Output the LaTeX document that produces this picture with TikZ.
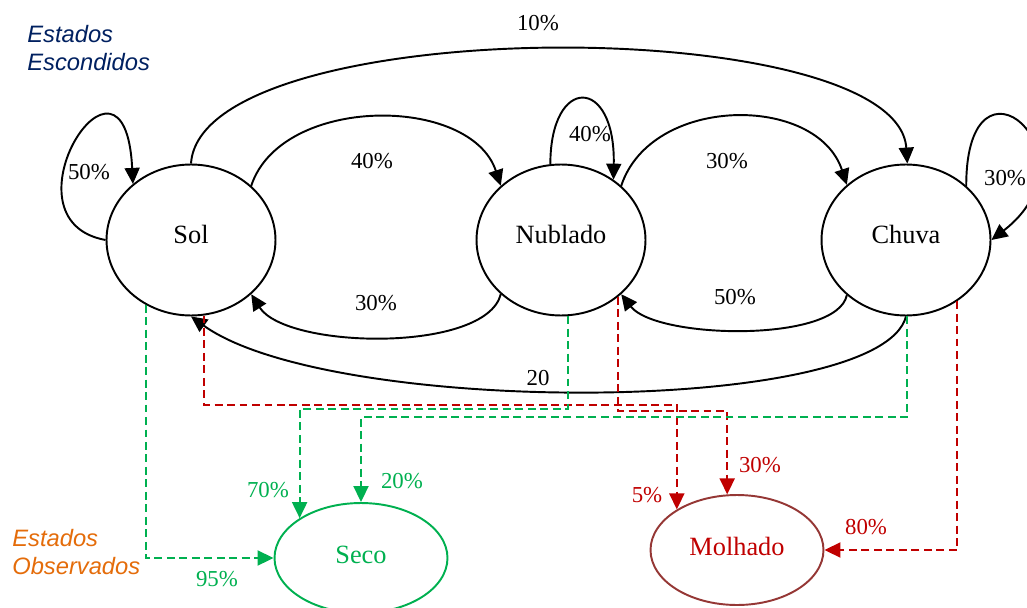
\documentclass[tikz,border=0pt]{standalone}
\usepackage{fontspec}
\setmainfont{Liberation Serif}
\setsansfont{Liberation Sans}
\usepackage{tikz}
\usetikzlibrary{arrows.meta}
\usetikzlibrary{shapes,positioning}
\definecolor{azul}{RGB}{0,32,96}
\definecolor{laranja}{RGB}{228,108,10}
\definecolor{verde}{RGB}{0,176,80}
\definecolor{vermelho}{RGB}{192,0,0}
\definecolor{marrom}{RGB}{149,55,53}
\tikzset{>={Triangle[length=0.32cm,width=0.3cm]},
  estado/.style={ellipse,draw,line width=1.1pt,inner sep=0pt,
    minimum width=3.38cm,minimum height=3.02cm,text depth=0.24cm,
    font=\fontsize{15}{18}\selectfont},
  observado/.style={ellipse,draw,line width=1.1pt,inner sep=0pt,
    minimum width=3.46cm,minimum height=2.2cm,text depth=0.14cm,
    font=\fontsize{15}{18}\selectfont},
  rotulo/.style={inner sep=0pt,font=\fontsize{13}{15}\selectfont},
  trans/.style={->,line width=1.1pt},
  emissao/.style={->,line width=1.1pt,dash pattern=on 4.5pt off 2.6pt},
  legenda/.style={anchor=west,align=left,inner sep=0pt,
    font=\sffamily\itshape\fontsize{13.5}{16}\selectfont}}

\begin{document}
\begin{tikzpicture}[x=0.02cm,y=-0.02cm]
  \useasboundingbox (0,0) rectangle (1027,608);

  % estados escondidos
  \node[estado] (sol) at (191,240) {Sol};
  \node[estado] (nublado) at (561,240) {Nublado};
  \node[estado] (chuva) at (906,240) {Chuva};

  % estados observados
  \node[observado,draw=verde,text=verde] (seco) at (361,558) {Seco};
  \node[observado,draw=marrom,text=vermelho] (molhado) at (737,550) {Molhado};

  \node[legenda,text=azul] (escondidos) at (27,48) {Estados\\Escondidos};
  \node[legenda,text=laranja] (observados) at (12,552) {Estados\\Observados};

  % transicoes
  \draw[trans] (sol.180) .. controls +(-110,-20) and +(-8,-165) .. (sol.136);
  \draw[trans] (sol.90) .. controls +(10,-152) and +(-10,-152) .. (chuva.89);
  \draw[trans] (sol.42) .. controls +(30,-91) and +(-30,-91) .. (nublado.138);
  \draw[trans] (nublado.98) .. controls +(0,-89) and +(2,-104) .. (nublado.49);
  \draw[trans] (nublado.42) .. controls +(30,-91) and +(-30,-91) .. (chuva.137);
  \draw[trans] (chuva.42) .. controls +(0,-150) and +(110,-85) .. (chuva.0);
  \draw[trans] (nublado.222) .. controls +(-15,59) and +(35,55) .. (sol.-42);
  \draw[trans] (chuva.223) .. controls +(-10,48) and +(35,45) .. (nublado.-42);
  \draw[trans] (chuva.-90) .. controls +(-26,100) and +(139,100) .. (sol.-90);

  \node[rotulo] (psol) at (89,172) {50\%};
  \node[rotulo] (psc) at (538,23) {10\%};
  \node[rotulo] (psn) at (372,161) {40\%};
  \node[rotulo] (pnub) at (590,134) {40\%};
  \node[rotulo] (pnc) at (727,161) {30\%};
  \node[rotulo] (pchu) at (1005,178) {30\%};
  \node[rotulo] (pns) at (376,303) {30\%};
  \node[rotulo] (pcn) at (735,297) {50\%};
  \node[rotulo] (pcs) at (538,378) {20};

  % emissoes
  \draw[emissao,vermelho] (sol.-80) -- (sol.-80 |- 0,405) -| (molhado.146);
  \draw[emissao,vermelho] (nublado.-45) -- (nublado.-45 |- 0,411) -| (molhado.100);
  \draw[emissao,vermelho] (chuva.-50) |- (molhado.east);
  \draw[emissao,verde] (sol.235) |- (seco.west);
  \draw[emissao,verde] (nublado.-85) -- (nublado.-85 |- 0,409) -| (seco.147);
  \draw[emissao,verde] (chuva.-89) -- (chuva.-89 |- 0,417) -| (seco.north);

  \node[rotulo,text=verde] (e95) at (217,579) {95\%};
  \node[rotulo,text=verde] (e70) at (268,490) {70\%};
  \node[rotulo,text=verde] (e20) at (402,481) {20\%};
  \node[rotulo,text=vermelho] (e5) at (647,495) {5\%};
  \node[rotulo,text=vermelho] (e30) at (760,465) {30\%};
  \node[rotulo,text=vermelho] (e80) at (866,527) {80\%};
\end{tikzpicture}
\end{document}
